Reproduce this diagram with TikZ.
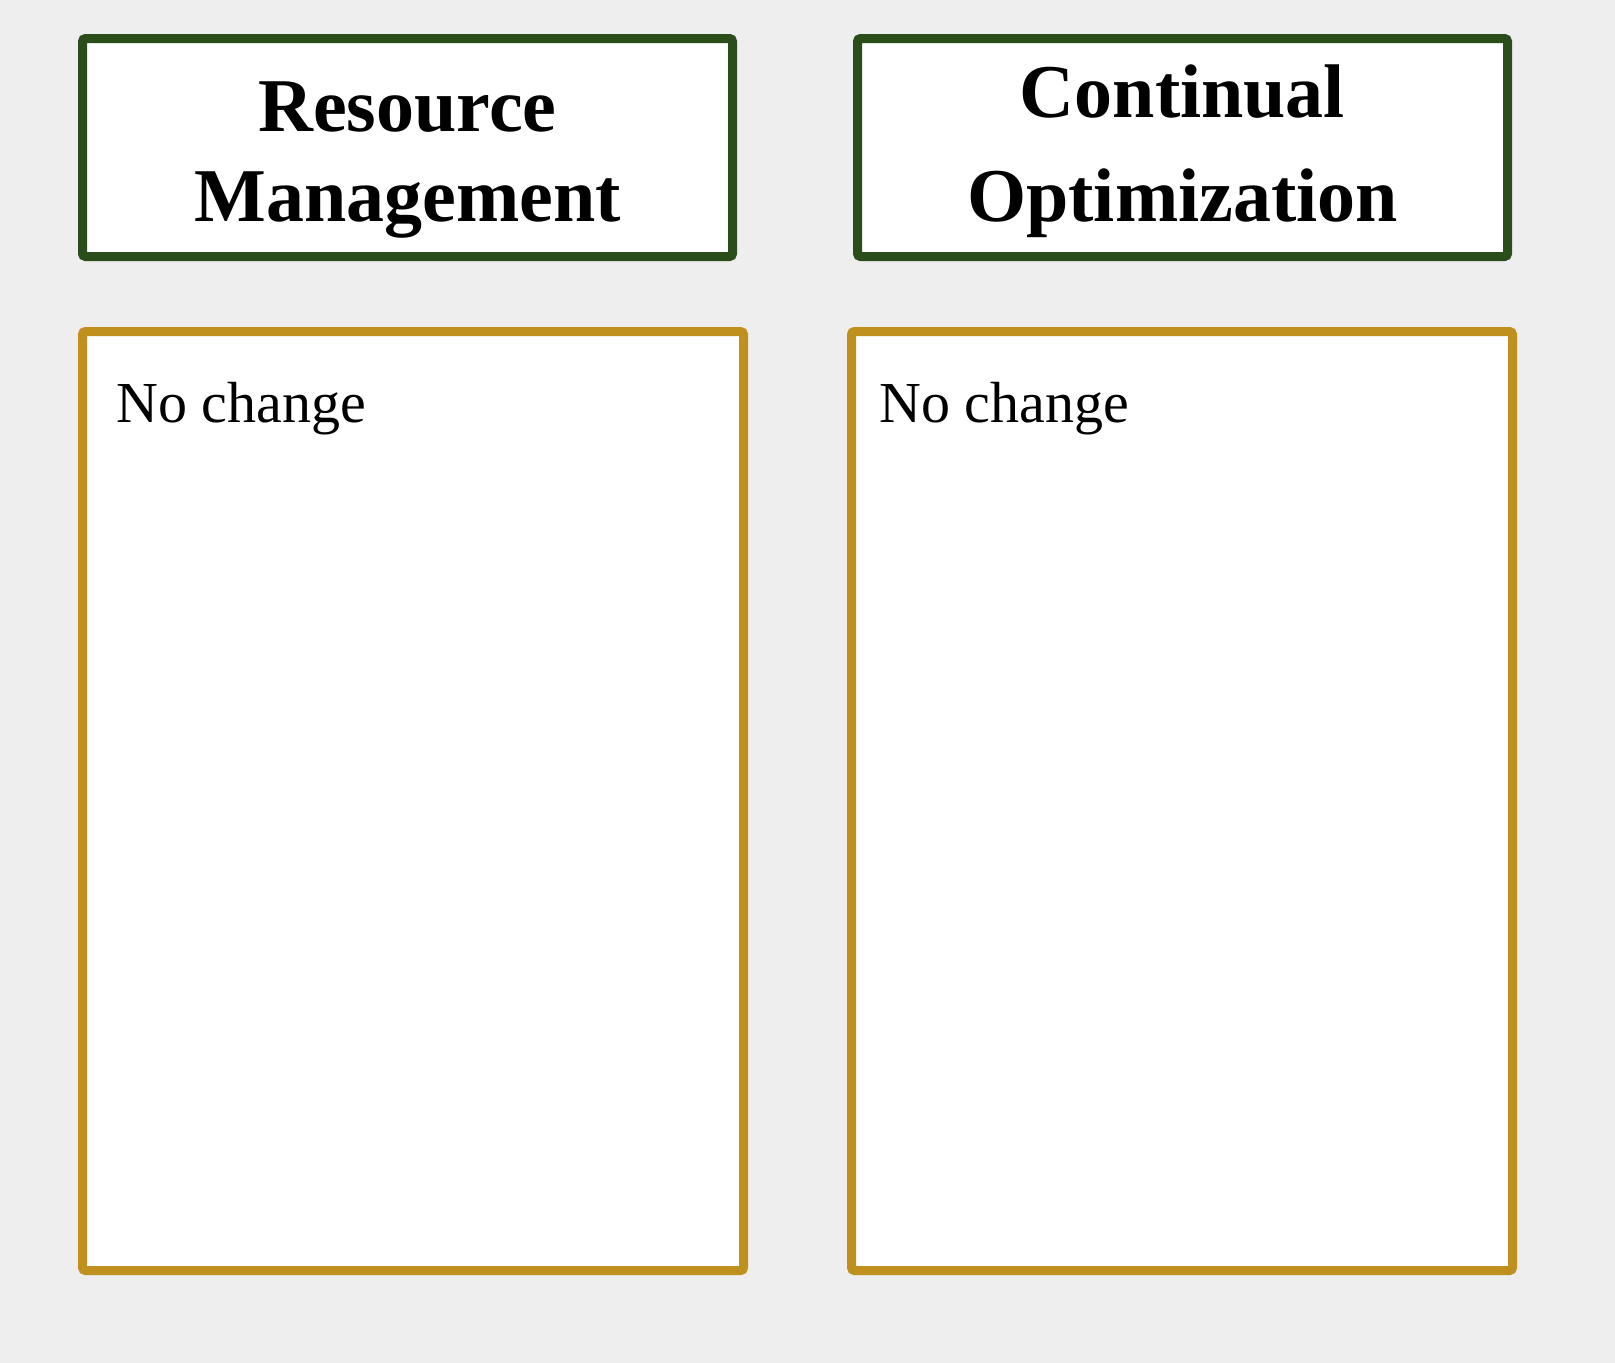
\documentclass[tikz,border=0pt]{standalone}
\usepackage{fontspec}
\setmainfont{Liberation Serif}
\definecolor{bgcol}{HTML}{EEEEEE}
\definecolor{hdrgreen}{HTML}{2B4D1A}
\definecolor{bodygold}{HTML}{C0901F}
\tikzset{
  hdrbox/.style={draw=hdrgreen, fill=white, line width=9pt, rounded corners=3pt, inner sep=0pt},
  bodybox/.style={draw=bodygold, fill=white, line width=9pt, rounded corners=3pt, inner sep=0pt},
  hdrtext/.style={inner sep=0pt, anchor=base, font=\fontsize{76}{90}\selectfont\bfseries},
  bodytext/.style={inner sep=0pt, anchor=base west, font=\fontsize{58}{70}\selectfont},
}
\begin{document}
\begin{tikzpicture}[x=1pt,y=-1pt]
\fill[bgcol] (0,0) rectangle (1615,1363);
\useasboundingbox (0,0) rectangle (1615,1363);
% header boxes
\node[hdrbox, minimum width=650pt, minimum height=218pt] (h1) at (407.5,147.5) {};
\node[hdrbox, minimum width=650pt, minimum height=218pt] (h2) at (1182.5,147.5) {};
\node[hdrtext] (h1a) at (407.5,131) {Resource};
\node[hdrtext] (h1b) at (407.5,221) {Management};
\node[hdrtext] (h2a) at (1182.5,117.5) {Continual};
\node[hdrtext] (h2b) at (1182.5,221) {Optimization};
% body boxes
\node[bodybox, minimum width=661pt, minimum height=939pt] (b1) at (413,801) {};
\node[bodybox, minimum width=661pt, minimum height=939pt] (b2) at (1182,801) {};
\node[bodytext] (t1) at (116,422) {No change};
\node[bodytext] (t2) at (879,422) {No change};
\end{tikzpicture}
\end{document}
